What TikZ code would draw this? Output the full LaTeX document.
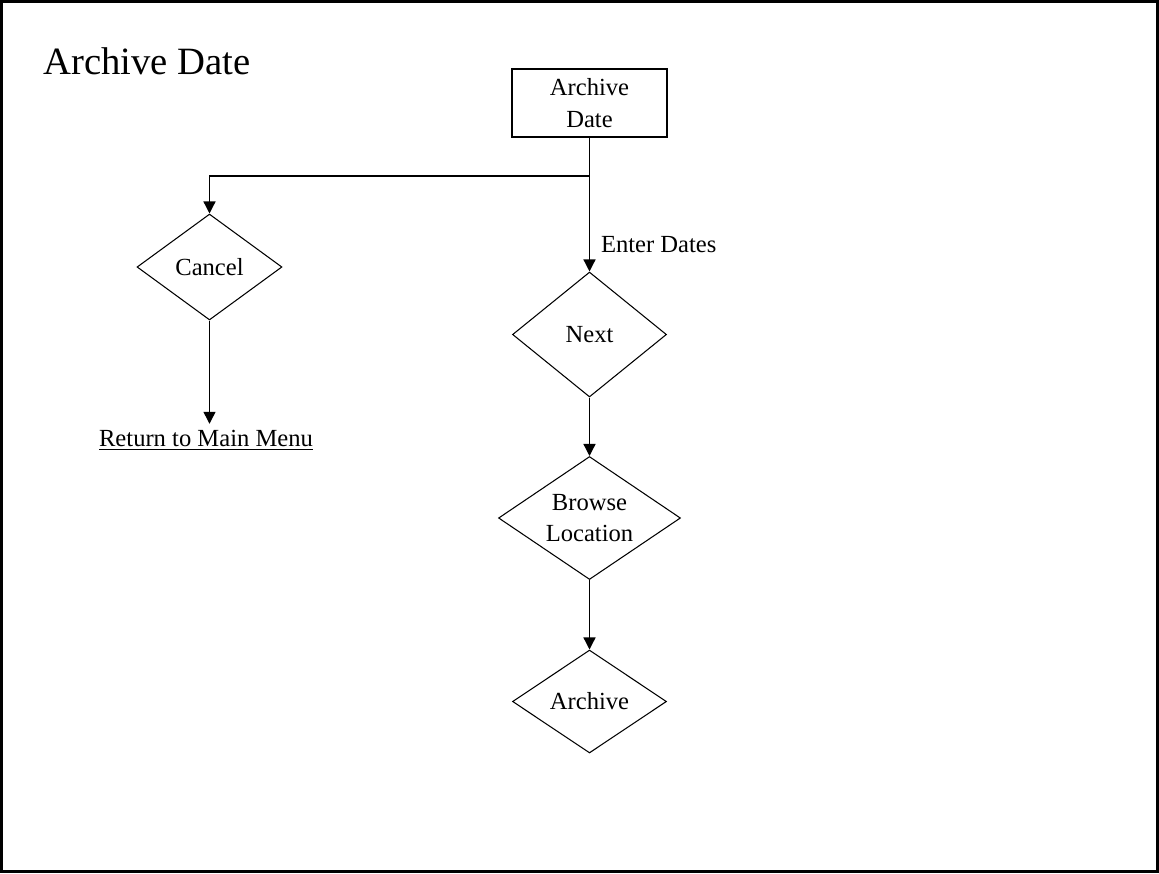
\documentclass[tikz,border=0pt]{standalone}
\usepackage{fontspec}
\setmainfont{Liberation Serif}
\usetikzlibrary{shapes.geometric,arrows.meta}
\tikzset{
    decision/.style={diamond,draw,line width=0.6pt,inner sep=0pt,shape aspect=1.5,align=center},
    flow/.style={-{Triangle[length=0.24cm,width=0.24cm]},line width=0.75pt}
}
\begin{document}
\begin{tikzpicture}[x=0.02cm,y=-0.02cm,font=\fontsize{14}{18}\selectfont]
    \useasboundingbox (0,0) rectangle (1159,873);
    \draw[line width=1.7pt] (1.5,1.5) rectangle (1157.5,871.5);
    \node[anchor=base west,inner sep=0pt,font=\fontsize{22}{26}\selectfont] (title) at (43,74) {Archive Date};
    \node[draw,line width=0.6pt,minimum width=3.1cm,minimum height=1.36cm,align=center] (date) at (589.5,103) {Archive\\Date};
    \coordinate (split) at (589.5,176);
    \node[decision,minimum width=2.9cm,minimum height=2.12cm] (cancel) at (209.5,267) {Cancel};
    \node[decision,minimum width=3.08cm,minimum height=2.5cm] (next) at (589.5,334.5) {Next};
    \node[decision,minimum width=3.64cm,minimum height=2.46cm] (browse) at (589.5,518) {Browse\\Location};
    \node[decision,minimum width=3.08cm,minimum height=2.06cm] (archive) at (589.5,701.5) {Archive};
    \node (menu) at (206,440) {\underline{Return to Main Menu}};
    \draw[line width=0.75pt] (date) -- (split);
    \draw[flow] (split) -| (cancel);
    \draw[flow] (split) -- node[right,pos=0.72,xshift=0.1cm] {Enter Dates} (next);
    \draw[flow] (next) -- (browse);
    \draw[flow] (browse) -- (archive);
    \draw[flow] (cancel) -- (cancel.south |- menu.north);
\end{tikzpicture}
\end{document}
